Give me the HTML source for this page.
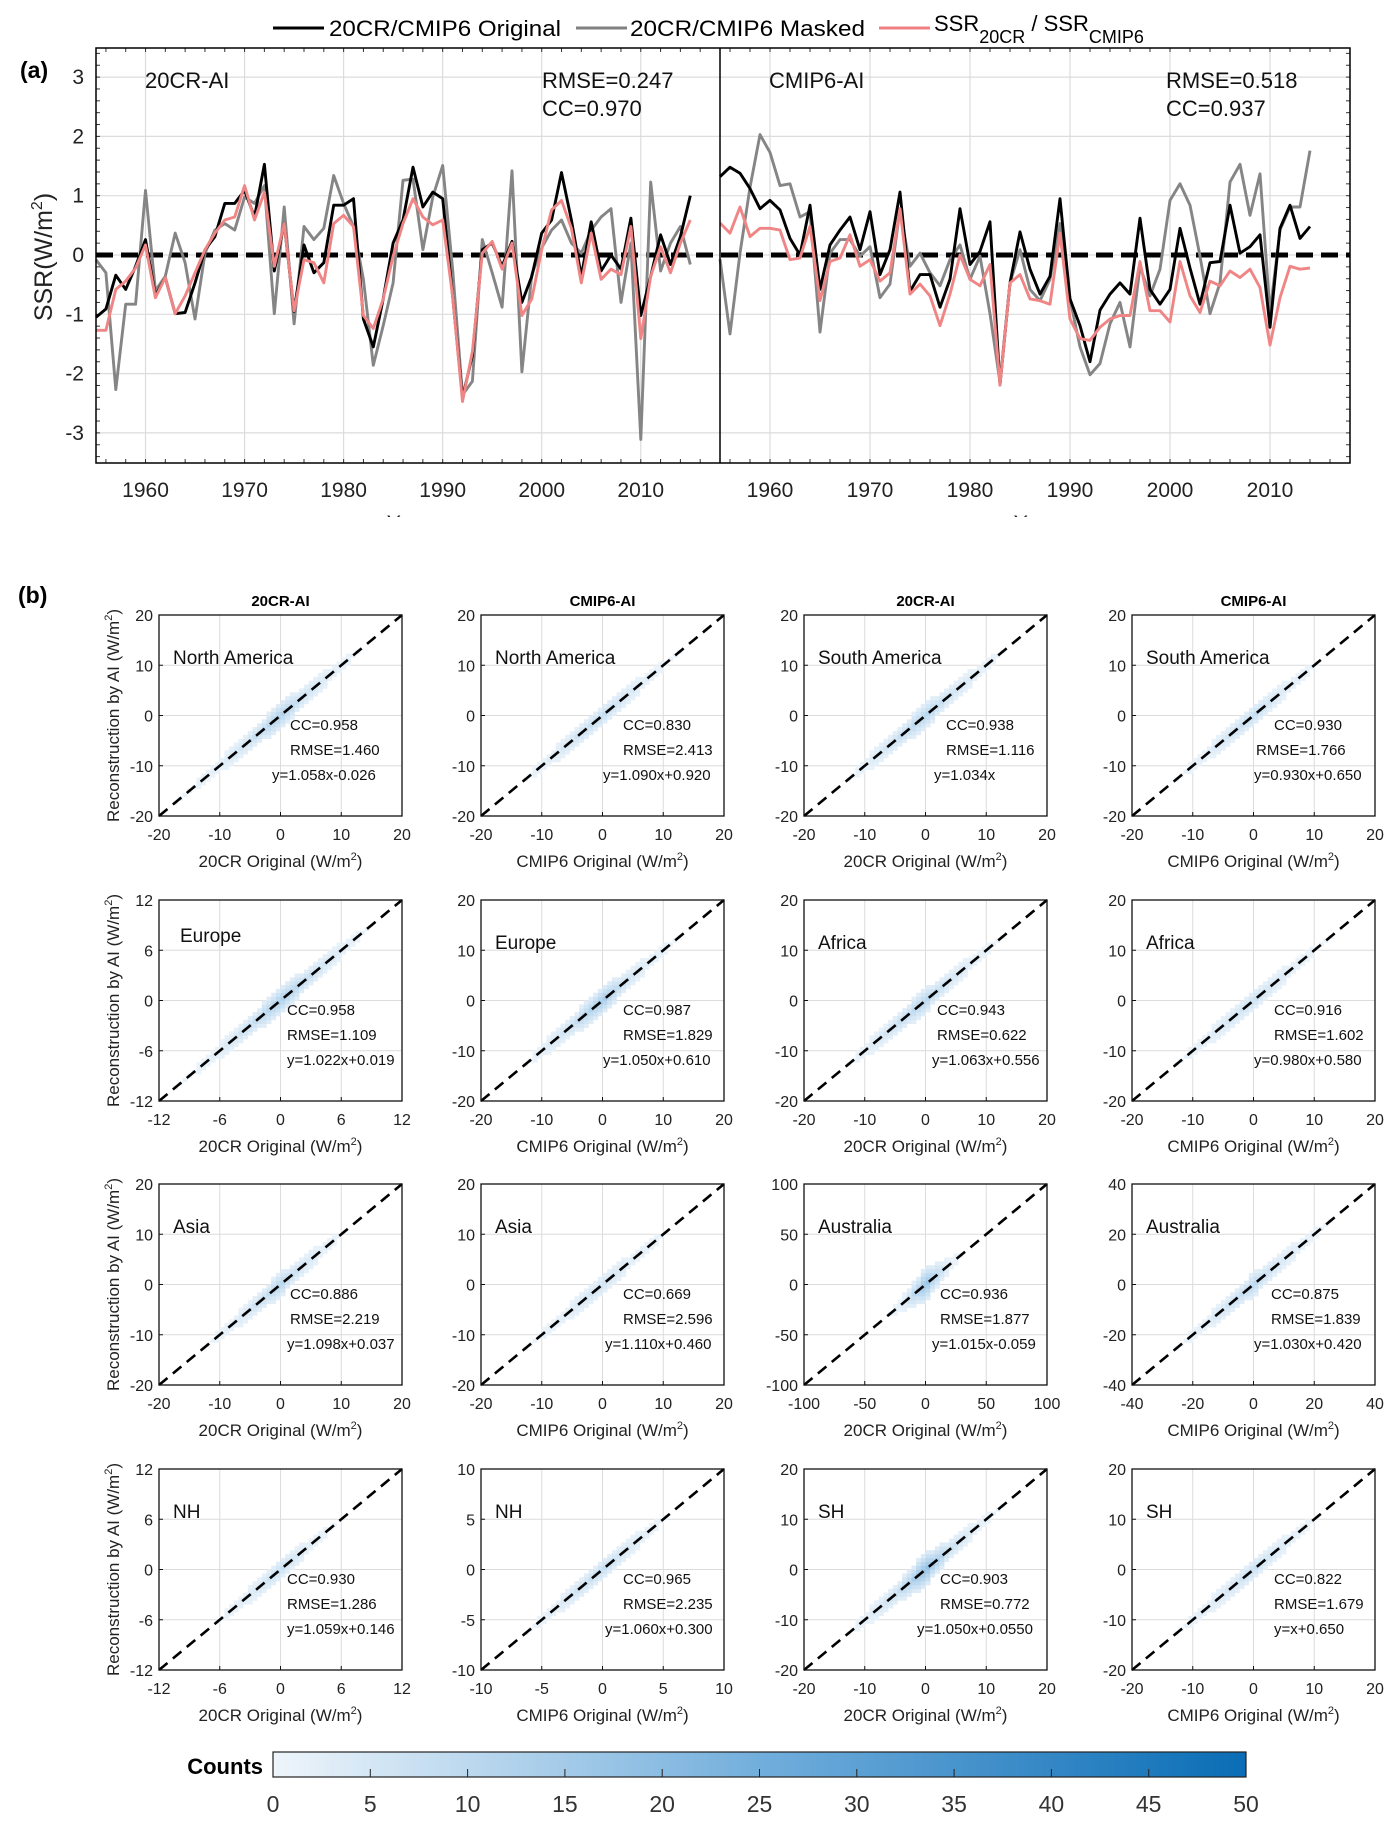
<!DOCTYPE html>
<html><head><meta charset="utf-8"><title>SSR reconstruction figure</title>
<style>
html,body{margin:0;padding:0;background:#fff;}
svg{display:block;font-family:"Liberation Sans",Arial,sans-serif;}
</style></head>
<body>
<svg id="fig" width="1391" height="1831" viewBox="0 0 1391 1831" xmlns="http://www.w3.org/2000/svg"></svg>
<script>
// ---------- Panel (a) data ----------
const startYear = 1955;
const yearTicks = [1960, 1970, 1980, 1990, 2000, 2010];
const ssrTicks = [3, 2, 1, 0, -1, -2, -3];
const left20crOriginal = [-1.05,-0.91,-0.34,-0.58,-0.19,0.26,-0.69,-0.38,-0.99,-0.97,-0.47,0.09,0.31,0.87,0.87,1.09,0.64,1.53,-0.27,0.53,-0.95,0.17,-0.3,-0.13,0.84,0.84,0.95,-1.08,-1.55,-0.74,0.2,0.59,1.48,0.81,1.06,0.95,-0.69,-2.41,-1.69,0.09,0.2,-0.19,0.23,-0.8,-0.36,0.37,0.59,1.39,0.59,-0.36,0.56,-0.27,0,-0.24,0.62,-1.02,-0.36,0.34,-0.16,0.31,1.0];
const left20crMasked = [-0.08,-0.3,-2.27,-0.83,-0.83,1.09,-0.6,-0.36,0.37,-0.13,-1.08,0.03,0.42,0.53,0.42,0.98,0.87,1.17,-0.99,0.81,-1.16,0.48,0.26,0.45,1.34,0.87,0.48,-0.41,-1.86,-1.19,-0.47,1.26,1.28,0.09,0.98,1.51,-0.24,-2.36,-2.13,0.26,-0.3,-0.88,1.42,-1.97,-0.33,0.12,0.42,0.59,0.2,0.03,0.42,0.64,0.78,-0.8,0.2,-3.11,1.23,-0.27,0.2,0.48,-0.16];
const left20crSSR = [-1.27,-1.27,-0.58,-0.44,-0.22,0.17,-0.72,-0.38,-0.99,-0.69,-0.3,0.09,0.37,0.59,0.64,1.17,0.59,1.06,-0.19,0.53,-0.94,-0.08,-0.13,-0.47,0.53,0.67,0.48,-1.02,-1.24,-0.74,-0.02,0.53,0.95,0.64,0.51,0.59,-0.69,-2.47,-1.63,0.03,0.23,-0.24,0.2,-1.02,-0.74,0.09,0.76,0.92,0.45,-0.47,0.37,-0.41,-0.24,-0.33,0.48,-1.41,-0.36,0.14,-0.3,0.2,0.59];
const rightCmipOriginal = [1.32,1.48,1.38,1.12,0.78,0.92,0.76,0.28,0,0.84,-0.58,0.17,0.42,0.64,0.09,0.73,-0.33,0.09,1.06,-0.61,-0.33,-0.33,-0.88,-0.41,0.78,-0.16,0.06,0.56,-2.19,-0.47,0.39,-0.24,-0.66,-0.36,0.95,-0.74,-1.19,-1.8,-0.93,-0.66,-0.47,-0.66,0.62,-0.58,-0.83,-0.58,0.45,-0.22,-0.83,-0.13,-0.11,0.84,0.03,0.14,0.34,-1.22,0.45,0.84,0.28,0.48];
const rightCmipMasked = [-0.07,-1.33,0.03,1.14,2.03,1.73,1.17,1.2,0.64,0.73,-1.3,0.03,0.26,0.26,-0.02,0.14,-0.72,-0.49,0.78,-0.19,0.03,-0.3,-0.52,-0.08,0.17,-0.41,-0.02,-0.99,-2.15,-0.47,0.09,-0.58,-0.77,-0.41,0.53,-0.74,-1.55,-2.02,-1.83,-1.16,-0.8,-1.55,-0.19,-0.69,-0.24,0.92,1.2,0.84,-0.02,-0.99,-0.47,1.23,1.53,0.67,1.37,-0.97,0.42,0.81,0.81,1.76];
const rightCmipSSR = [0.54,0.37,0.81,0.31,0.45,0.45,0.42,-0.08,-0.05,0.48,-0.77,-0.11,-0.05,0.34,-0.19,-0.08,-0.44,-0.3,0.78,-0.66,-0.49,-0.69,-1.19,-0.66,0,-0.41,-0.52,-0.16,-2.19,-0.47,-0.33,-0.74,-0.77,-0.83,0.37,-1.08,-1.41,-1.44,-1.22,-1.08,-1.02,-1.02,-0.11,-0.94,-0.94,-1.13,-0.11,-0.69,-0.97,-0.44,-0.52,-0.27,-0.38,-0.24,-0.55,-1.52,-0.72,-0.19,-0.24,-0.22];
const panelStatsRMSE = ["RMSE=0.247", "RMSE=0.518"];
const panelStatsCC = ["CC=0.970", "CC=0.937"];
const panelNames = ["20CR-AI", "CMIP6-AI"];

// ---------- Panel (b) data ----------
const regions = ["North America","North America","South America","South America","Europe","Europe","Africa","Africa","Asia","Asia","Australia","Australia","NH","NH","SH","SH"];
const axisLimits = [20,20,20,20, 12,20,20,20, 20,20,100,40, 12,10,20,20];
const ccValues = ["CC=0.958","CC=0.830","CC=0.938","CC=0.930","CC=0.958","CC=0.987","CC=0.943","CC=0.916","CC=0.886","CC=0.669","CC=0.936","CC=0.875","CC=0.930","CC=0.965","CC=0.903","CC=0.822"];
const rmseValues = ["RMSE=1.460","RMSE=2.413","RMSE=1.116","RMSE=1.766","RMSE=1.109","RMSE=1.829","RMSE=0.622","RMSE=1.602","RMSE=2.219","RMSE=2.596","RMSE=1.877","RMSE=1.839","RMSE=1.286","RMSE=2.235","RMSE=0.772","RMSE=1.679"];
const fitEquations = ["y=1.058x-0.026","y=1.090x+0.920","y=1.034x","y=0.930x+0.650","y=1.022x+0.019","y=1.050x+0.610","y=1.063x+0.556","y=0.980x+0.580","y=1.098x+0.037","y=1.110x+0.460","y=1.015x-0.059","y=1.030x+0.420","y=1.059x+0.146","y=1.060x+0.300","y=1.050x+0.0550","y=x+0.650"];
const densityBins = [-0.8,-0.6,-0.4,-0.2,0,0.2,0.4,0.6,0.8];
const densityProfiles = [
  [1,2,5,10,16,8,4,1,0],[0,1,4,8,11,6,2,1,0],[0,1,5,10,14,8,4,1,0],[0,1,3,7,11,5,2,0,0],
  [1,2,6,11,17,11,6,2,0],[0,1,5,11,19,8,3,1,0],[0,1,5,10,14,7,3,1,0],[0,1,3,6,9,5,2,1,0],
  [0,1,3,8,14,6,2,0,0],[0,1,2,5,8,4,2,0,0],[0,0,0,2,22,2,0,0,0],[0,1,3,8,13,6,3,1,0],
  [0,0,2,5,10,4,1,0,0],[0,1,3,8,11,6,2,0,0],[0,1,5,11,24,10,3,1,0],[0,1,3,6,10,5,2,0,0]];
const colorbarTicks = [0,5,10,15,20,25,30,35,40,45,50];

// ---------- layout (not data) ----------
const NS = "http://www.w3.org/2000/svg";
const svg = document.getElementById("fig");
function mk(tag, attrs, parent, txt){
  const e = document.createElementNS(NS, tag);
  for (const k in attrs) e.setAttribute(k, attrs[k]);
  if (txt !== undefined) e.textContent = txt;
  (parent || svg).appendChild(e);
  return e;
}

// ===== Panel (a) =====
const aTop = 48, aBot = 463;
const panX = [[96,720],[720,1350]];
function xA(p, yr){ return panX[p][0] + (yr - 1955) / 63 * (panX[p][1] - panX[p][0]); }
function yA(v){ return 255 - v * 59.3; }

let t = mk("text",{x:20,y:78,"font-size":23,"font-weight":"bold"},svg,"(a)");



const lg = mk("g",{});


let ln = mk("line",{x1:273,y1:28,x2:324,y2:28,stroke:"#000","stroke-width":3},lg);


t = mk("text",{x:329,y:36,"font-size":22,textLength:232,lengthAdjust:"spacingAndGlyphs"},lg,"20CR/CMIP6 Original");


ln = mk("line",{x1:576,y1:28,x2:627,y2:28,stroke:"#808080","stroke-width":3},lg);


t = mk("text",{x:630,y:36,"font-size":22,textLength:235,lengthAdjust:"spacingAndGlyphs"},lg,"20CR/CMIP6 Masked");


ln = mk("line",{x1:879,y1:28,x2:930,y2:28,stroke:"#f08080","stroke-width":3},lg);


t = mk("text",{x:934,y:31,"font-size":22},lg);


mk("tspan",{},t,"SSR");
mk("tspan",{dy:12,"font-size":18},t,"20CR");
mk("tspan",{dy:-12}, t, " / SSR");
mk("tspan",{dy:12,"font-size":18},t,"CMIP6");

for (let p = 0; p < 2; p++){
  const g = mk("g",{});
  
  
  ssrTicks.forEach(v => mk("line",{x1:panX[p][0],x2:panX[p][1],y1:yA(v),y2:yA(v),stroke:"#dcdcdc","stroke-width":1.2},g));
  yearTicks.forEach(yr => mk("line",{x1:xA(p,yr),x2:xA(p,yr),y1:aTop,y2:aBot,stroke:"#dcdcdc","stroke-width":1.2},g));
  for (let yr = 1956; yr <= 2017; yr += 2){
    mk("line",{x1:xA(p,yr),x2:xA(p,yr),y1:aBot,y2:aBot-4,stroke:"#333","stroke-width":1},g);
    mk("line",{x1:xA(p,yr),x2:xA(p,yr),y1:aTop,y2:aTop+4,stroke:"#333","stroke-width":1},g);
  }
  for (let v = -3.4; v <= 3.45; v += 0.2){
    const xx = p===0 ? panX[0][0] : panX[1][1];
    const d = p===0 ? 4 : -4;
    mk("line",{x1:xx,x2:xx+d,y1:yA(v),y2:yA(v),stroke:"#333","stroke-width":1},g);
  }
}
ln = mk("line",{x1:96,x2:1350,y1:yA(0),y2:yA(0),stroke:"#000","stroke-width":5,"stroke-dasharray":"17 8"});



function series(p, vals, color, name){
  const pts = vals.map((v,i) => xA(p, startYear + i).toFixed(1) + "," + yA(v).toFixed(1)).join(" ");
  const pl = mk("polyline",{points:pts,fill:"none",stroke:color,"stroke-width":2.9,"stroke-linejoin":"round"});
  
  
}
series(0,left20crMasked,"#858585","line-20cr-masked");
series(0,left20crOriginal,"#000","line-20cr-original");
series(0,left20crSSR,"#f08585","line-ssr-20cr");
series(1,rightCmipMasked,"#858585","line-cmip6-masked");
series(1,rightCmipOriginal,"#000","line-cmip6-original");
series(1,rightCmipSSR,"#f08585","line-ssr-cmip6");

let r = mk("rect",{x:96,y:aTop,width:1254,height:aBot-aTop,fill:"none",stroke:"#000","stroke-width":1.5});


ln = mk("line",{x1:720,x2:720,y1:aTop,y2:aBot,stroke:"#000","stroke-width":1.5});



ssrTicks.forEach(v => {
  const tt = mk("text",{x:84,y:yA(v)+7,"font-size":21,"text-anchor":"end",fill:"#222"},svg,String(v));
  
  
});
t = mk("text",{x:0,y:0,"font-size":25,"text-anchor":"middle",transform:"translate(52,257) rotate(-90)",fill:"#222"});


mk("tspan",{},t,"SSR(W/m");
mk("tspan",{dy:-10,"font-size":16},t,"2");
mk("tspan",{dy:10},t,")");

for (let p = 0; p < 2; p++){
  yearTicks.forEach(yr => {
    const tt = mk("text",{x:xA(p,yr),y:497,"font-size":21,"text-anchor":"middle",fill:"#222"},svg,String(yr));
    
    
  });
  const cx = (panX[p][0]+panX[p][1])/2;
  const yl = mk("text",{x:cx,y:530,"font-size":21,"text-anchor":"middle",fill:"#222"},svg,"Year");
  
  
  const nm = mk("text",{x:panX[p][0]+49,y:88,"font-size":22,fill:"#111"},svg,panelNames[p]);
  
  
  const rm = mk("text",{x:panX[p][0]+446,y:88,"font-size":22,fill:"#111"},svg,panelStatsRMSE[p]);
  
  
  const cc = mk("text",{x:panX[p][0]+446,y:116,"font-size":22,fill:"#111"},svg,panelStatsCC[p]);
  
  
}
mk("rect",{x:0,y:517,width:1391,height:40,fill:"#fff"});

// ===== Panel (b) =====
t = mk("text",{x:18,y:603,"font-size":23,"font-weight":"bold"},svg,"(b)");



const colX = [159,481,804,1132];
const rowY = [615,900,1184,1469];
const boxW = 243, boxH = 201;
const colTitles = ["20CR-AI","CMIP6-AI","20CR-AI","CMIP6-AI"];
const ccXOff = [131,142,142,142, 128,142,133,142, 131,142,136,139, 128,142,136,142];
const rmseXOff = [131,142,142,124, 128,142,133,142, 131,142,136,139, 128,142,136,142];
const eqXOff = [113,122,130,122, 128,122,128,122, 128,124,128,122, 128,124,113,142];

function cmap(v){
  const a = [238,245,251], m = [114,174,220], b = [10,109,181];
  const f = Math.max(0, Math.min(1, v/50));
  let c;
  if (f < 0.5){ const k = f/0.5; c = a.map((x,i)=>Math.round(x+(m[i]-x)*k)); }
  else { const k = (f-0.5)/0.5; c = m.map((x,i)=>Math.round(x+(b[i]-x)*k)); }
  return "rgb(" + c.join(",") + ")";
}
function interpProfile(prof, f){
  if (f <= densityBins[0] - 0.1 || f >= densityBins[densityBins.length-1] + 0.1) return 0;
  if (f <= densityBins[0]) return prof[0];
  if (f >= densityBins[densityBins.length-1]) return prof[prof.length-1];
  for (let i = 0; i < densityBins.length-1; i++){
    if (f >= densityBins[i] && f <= densityBins[i+1]){
      const k = (f - densityBins[i]) / (densityBins[i+1] - densityBins[i]);
      return prof[i] + (prof[i+1]-prof[i])*k;
    }
  }
  return 0;
}

for (let idx = 0; idx < 16; idx++){
  const row = Math.floor(idx/4), col = idx % 4;
  const x0 = colX[col], y0 = rowY[row];
  const lim = axisLimits[idx];
  const sx = v => x0 + (v + lim) / (2*lim) * boxW;
  const sy = v => y0 + boxH - (v + lim) / (2*lim) * boxH;
  const g = mk("g",{});
  
  
  mk("rect",{x:x0,y:y0,width:boxW,height:boxH,fill:"#fff"},g);
  const ticks = [-lim,-lim/2,0,lim/2,lim];
  ticks.forEach(v => {
    mk("line",{x1:sx(v),x2:sx(v),y1:y0,y2:y0+boxH,stroke:"#dcdcdc","stroke-width":1},g);
    mk("line",{x1:x0,x2:x0+boxW,y1:sy(v),y2:sy(v),stroke:"#dcdcdc","stroke-width":1},g);
  });
  const nC = 52, cell = 2*lim/nC;
  const prof = densityProfiles[idx];
  for (let i = 0; i < nC; i++){
    const xc = -lim + (i+0.5)*cell;
    const c = interpProfile(prof, xc/lim);
    if (c < 0.5) continue;
    const w = 1 + Math.round(c/8);
    for (let k = -w; k <= w; k++){
      const cnt = c * (1 - Math.abs(k)/(w+1)) * 0.8;
      if (cnt < 0.6) continue;
      const yc = xc + k*cell;
      const rc = mk("rect",{x:sx(xc-cell/2),y:sy(yc+cell/2),width:boxW/nC+0.3,height:boxH/nC+0.3,fill:cmap(cnt)},g);
      
      
    }
  }
  const dl = mk("line",{x1:sx(-lim),y1:sy(-lim),x2:sx(lim),y2:sy(lim),stroke:"#000","stroke-width":2.6,"stroke-dasharray":"11 7"},g);
  
  
  mk("rect",{x:x0,y:y0,width:boxW,height:boxH,fill:"none",stroke:"#111","stroke-width":1.3},g);
  ticks.forEach(v => {
    mk("line",{x1:sx(v),x2:sx(v),y1:y0+boxH,y2:y0+boxH-4,stroke:"#111"},g);
    mk("line",{x1:x0,x2:x0+4,y1:sy(v),y2:sy(v),stroke:"#111"},g);
    const xl = mk("text",{x:sx(v),y:y0+boxH+24,"font-size":16,"text-anchor":"middle",fill:"#222"},g,String(v));
    
    
    const yl = mk("text",{x:x0-6,y:sy(v)+6,"font-size":16,"text-anchor":"end",fill:"#222"},g,String(v));
    
    
  });
  const lx = (idx===4) ? 21 : 14, ly = (idx===4) ? 42 : 49;
  const rl = mk("text",{x:x0+lx,y:y0+ly,"font-size":19,fill:"#111"},g,regions[idx]);
  
  
  const c1 = mk("text",{x:x0+ccXOff[idx],y:y0+115,"font-size":15,fill:"#111"},g,ccValues[idx]);
  
  
  const c2 = mk("text",{x:x0+rmseXOff[idx],y:y0+140,"font-size":15,fill:"#111"},g,rmseValues[idx]);
  
  
  const c3 = mk("text",{x:x0+eqXOff[idx],y:y0+165,"font-size":15,fill:"#111"},g,fitEquations[idx]);
  
  
  const xt = mk("text",{x:x0+boxW/2,y:y0+boxH+51,"font-size":17,"text-anchor":"middle",fill:"#222"},g);
  
  
  mk("tspan",{},xt,(col%2===0 ? "20CR" : "CMIP6") + " Original (W/m");
  mk("tspan",{dy:-7,"font-size":11},xt,"2");
  mk("tspan",{dy:7},xt,")");
  if (col === 0){
    const yt = mk("text",{x:0,y:0,"font-size":17,"text-anchor":"middle",fill:"#222",transform:"translate("+(x0-40)+","+(y0+boxH/2)+") rotate(-90)"},g);
    
    
    mk("tspan",{},yt,"Reconstruction by AI (W/m");
    mk("tspan",{dy:-7,"font-size":11},yt,"2");
    mk("tspan",{dy:7},yt,")");
  }
  if (row === 0){
    const ct = mk("text",{x:x0+boxW/2,y:y0-9,"font-size":15,"font-weight":"bold","text-anchor":"middle"},g,colTitles[col]);
    
    
  }
}

const cbX0 = 273, cbX1 = 1246, cbY = 1752, cbH = 25;
const defs = mk("defs",{});
const grad = mk("linearGradient",{id:"cbg",x1:0,y1:0,x2:1,y2:0},defs);
mk("stop",{offset:"0",  "stop-color":cmap(0)},grad);
mk("stop",{offset:"0.5","stop-color":cmap(25)},grad);
mk("stop",{offset:"1",  "stop-color":cmap(50)},grad);
r = mk("rect",{x:cbX0,y:cbY,width:cbX1-cbX0,height:cbH,fill:"url(#cbg)",stroke:"#222","stroke-width":1.2});


colorbarTicks.forEach(v => {
  const x = cbX0 + v/50*(cbX1-cbX0);
  mk("line",{x1:x,x2:x,y1:cbY+cbH,y2:cbY+cbH-8,stroke:"#222"});
  const tl = mk("text",{x:x,y:1812,"font-size":23,"text-anchor":"middle",fill:"#333"},svg,String(v));
  
  
});
t = mk("text",{x:263,y:1774,"font-size":22,"font-weight":"bold","text-anchor":"end"},svg,"Counts");


</script>
</body></html>
